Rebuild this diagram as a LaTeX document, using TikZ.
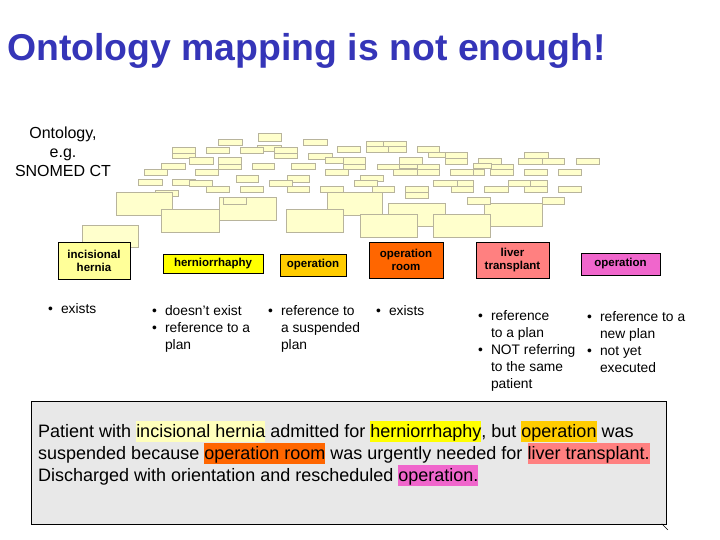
\documentclass[tikz,border=0pt]{standalone}
\usepackage{fontspec}
\setmainfont{Liberation Sans}
\usetikzlibrary{positioning}

\definecolor{titleblue}{HTML}{3535B8}
\definecolor{ontofill}{HTML}{FFFFCC}
\definecolor{ontoline}{HTML}{B8B49C}
\definecolor{herniacol}{HTML}{FFFF99}
\definecolor{herniahl}{HTML}{FFFFBB}
\definecolor{plancol}{HTML}{FFFF00}
\definecolor{opcol}{HTML}{FFCC00}
\definecolor{roomcol}{HTML}{FF6600}
\definecolor{livercol}{HTML}{FF8080}
\definecolor{newopcol}{HTML}{F066CC}
\definecolor{storygray}{HTML}{E8E8E8}

\newcommand{\hlword}[2]{{\setlength{\fboxsep}{0pt}\colorbox{#1}{\rule[-5pt]{0pt}{21pt}#2}}}

\tikzset{
  ontobox/.style={draw=ontoline, fill=ontofill, line width=0.8pt},
  term/.style={draw=black, line width=0.9pt, align=center, inner sep=0pt,
    font=\fontsize{11.5}{13}\selectfont\bfseries},
  notes/.style={anchor=north west, inner sep=0pt, font=\fontsize{13.8}{17}\selectfont}
}

\begin{document}
\begin{tikzpicture}[x=1pt, y=-1pt]
 \useasboundingbox (0,0) rectangle (720,540);

 \node[anchor=base west, inner sep=0pt, text=titleblue, font=\fontsize{37.4}{40}\selectfont\bfseries] (title) at (7,61) {Ontology mapping is not enough!};

 \node[align=center, inner sep=0pt, font=\fontsize{16}{19}\selectfont] (onto) at (63,152) {Ontology,\\e.g.\\SNOMED CT};

 % ontology boxes
 \foreach \xa/\ya/\xb/\yb in {
   258/133/281/141, 218/139/242/145, 303/139/327/145,
   172/147/195/153, 172/153/195/158, 206/147/229/153, 257/145/281/151,
   240/147/263/153, 274/147/297/153, 274/153/297/158, 337/146/360/152,
   366/141/383/146, 383/141/406/146, 366/146/388/152, 388/146/406/152,
   417/146/439/152, 428/152/451/157, 445/152/467/158, 445/158/467/164,
   524/152/548/158, 518/158/542/164, 542/158/564/164, 576/158/599/164,
   478/158/501/164, 473/163/491/168, 491/164/513/169,
   399/157/422/164, 399/164/417/168, 417/164/439/169,
   189/157/213/164, 218/157/241/164, 218/164/241/169,
   308/153/332/159, 325/157/343/163, 343/157/365/164, 343/164/365/169,
   161/163/185/169, 252/163/274/169, 291/163/315/169, 377/164/399/169,
   144/169/167/175, 195/169/218/175, 325/169/348/175, 393/169/417/175,
   417/169/439/175, 450/169/473/175, 473/169/484/175, 490/169/513/175,
   524/169/547/175, 558/169/581/175,
   236/175/258/182, 287/175/309/182, 360/175/383/181,
   138/179/162/185, 172/179/195/185, 189/180/212/186, 269/180/292/186,
   354/180/377/186, 433/180/457/186, 457/180/473/186, 508/180/530/186,
   530/180/547/186,
   206/186/229/192, 240/186/263/192, 287/186/309/192, 320/186/343/192,
   372/186/394/192, 405/186/428/192, 405/192/428/198, 451/186/473/192,
   484/186/508/192, 524/186/547/192, 558/186/581/192, 155/190/178/196,
   116/192/172/215, 327/192/382/215, 388/203/445/226, 484/203/542/226,
   161/209/219/232, 219/197/276/220, 286/209/343/232,
   360/214/417/237, 433/214/490/237, 82/225/138/247,
   223/197/246/204, 467/197/490/204, 542/197/564/204}
   \draw[ontobox] (\xa,\ya) rectangle (\xb,\yb);

 % mapped terms
 \node[term, fill=herniacol, minimum width=72, minimum height=37] (hernia) at (94,261) {incisional\\hernia};
 \node[term, fill=plancol, minimum width=100, minimum height=19] (plan) at (213,263.5) {herniorrhaphy};
 \node[term, fill=opcol, minimum width=66, minimum height=22] (op) at (313,265) {operation};
 \node[term, fill=roomcol, minimum width=74, minimum height=36] (room) at (406,260) {operation\\room};
 \node[term, fill=livercol, minimum width=73, minimum height=36] (liver) at (512.5,260) {liver\\transplant};
 \node[term, fill=newopcol, minimum width=79, minimum height=22] (newop) at (620.5,264) {operation};

 % notes
 \node[notes] (herniatxt) at (48,301) {\begin{tabular}{@{}l@{\hspace{8pt}}l@{}}• & exists\end{tabular}};
 \node[notes] (plantxt) at (152,303) {\begin{tabular}{@{}l@{\hspace{8pt}}l@{}}• & doesn't exist\\• & reference to a\\ & plan\end{tabular}};
 \node[notes] (optxt) at (268,303) {\begin{tabular}{@{}l@{\hspace{8pt}}l@{}}• & reference to\\ & a suspended\\ & plan\end{tabular}};
 \node[notes] (roomtxt) at (376,303) {\begin{tabular}{@{}l@{\hspace{8pt}}l@{}}• & exists\end{tabular}};
 \node[notes] (livertxt) at (478,308) {\begin{tabular}{@{}l@{\hspace{8pt}}l@{}}• & reference\\ & to a plan\\• & NOT referring\\ & to the same\\ & patient\end{tabular}};
 \node[notes] (newoptxt) at (587,309) {\begin{tabular}{@{}l@{\hspace{8pt}}l@{}}• & reference to a\\ & new plan\\• & not yet\\ & executed\end{tabular}};

 % patient story
 \node[draw=black, fill=storygray, line width=0.8pt, minimum width=635, minimum height=123, anchor=north west, inner sep=0pt] (story) at (31,401) {};
 \node[anchor=north west, inner sep=0pt, align=left, font=\fontsize{18}{22}\selectfont] (storytxt) at (38,421)
  {Patient with \hlword{herniahl}{incisional hernia} admitted for \hlword{plancol}{herniorrhaphy}, but \hlword{opcol}{operation} was\\
   suspended because \hlword{roomcol}{operation room} was urgently needed for \hlword{livercol}{liver transplant.}\\
   Discharged with orientation and rescheduled \hlword{newopcol}{operation.}};
 \draw[line width=0.6pt] ([shift={(-5,-1)}]story.south east) -- ([shift={(1,5)}]story.south east);
\end{tikzpicture}
\end{document}
